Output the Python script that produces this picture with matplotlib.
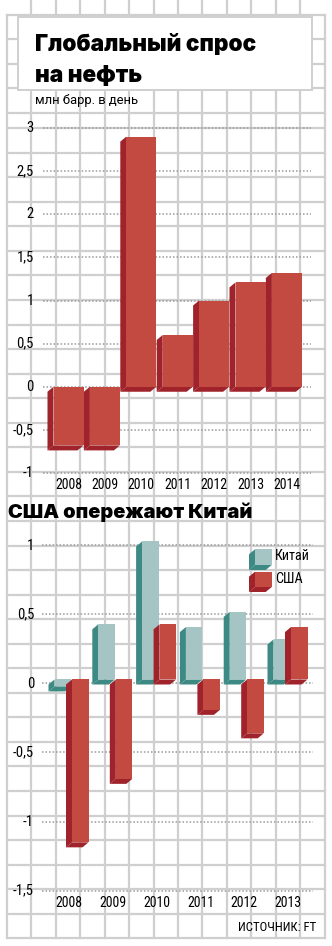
import matplotlib
matplotlib.use("Agg")
import matplotlib.pyplot as plt
from matplotlib.patches import Rectangle, Polygon
from matplotlib import font_manager

# ---- data -------------------------------------------------------------
demand_years = ["2008", "2009", "2010", "2011", "2012", "2013", "2014"]
demand_growth = [-0.68, -0.68, 2.90, 0.60, 1.00, 1.21, 1.32]
demand_ticks = [3, 2.5, 2, 1.5, 1, 0.5, 0, -0.5, -1]

split_years = ["2008", "2009", "2010", "2011", "2012", "2013"]
china_growth = [-0.05, 0.40, 1.00, 0.38, 0.49, 0.29]
usa_growth = [-1.18, -0.72, 0.40, -0.22, -0.39, 0.38]
split_ticks = [1, 0.5, 0, -0.5, -1, -1.5]

title_lines = ["Глобальный спрос", "на нефть"]
unit_text = "млн барр. в день"
split_title = "США опережают Китай"
legend_labels = ["Китай", "США"]
source_text = "ИСТОЧНИК: FT"

# ---- style ------------------------------------------------------------
W, H, DPI = 332, 946, 100
RED, RED_DARK = "#c24a40", "#a0232b"
TEAL, TEAL_DARK = "#a4c5c3", "#3d8a84"
PAPER = "#cfcfcf"
DOTS = "#9a9a9a"


def first_font(names):
    have = {f.name for f in font_manager.fontManager.ttflist}
    for n in names:
        if n in have:
            return n
    return "DejaVu Sans"


NARROW = first_font(["Roboto Condensed", "Liberation Sans Narrow", "Open Sans Condensed", "Roboto"])
HEAVY = first_font(["Inter", "Lato", "Noto Sans", "DejaVu Sans"])
PLAIN = first_font(["Roboto", "Noto Sans", "DejaVu Sans"])

fig = plt.figure(figsize=(W / DPI, H / DPI), dpi=DPI, facecolor="white")


def px_axes(left, top, right, bottom, z):
    ax = fig.add_axes([left / W, 1 - bottom / H, (right - left) / W, (bottom - top) / H])
    ax.set_zorder(z)
    ax.patch.set_alpha(0)
    ax.axis("off")
    return ax


def box3d(ax, x0, x1, yb, yt, ox, oy, face, dark, z=3):
    """Front face plus the shaded left side and underside of a block."""
    side = [(x0, yt), (x0, yb), (x0 + ox, yb + oy), (x0 + ox, yt + oy)]
    under = [(x0, yb), (x1, yb), (x1 + ox, yb + oy), (x0 + ox, yb + oy)]
    ax.add_patch(Polygon(side, closed=True, facecolor=dark, edgecolor="none", zorder=z))
    ax.add_patch(Polygon(under, closed=True, facecolor=dark, edgecolor="none", zorder=z))
    ax.add_patch(Rectangle((x0, min(yb, yt)), x1 - x0, abs(yt - yb),
                           facecolor=face, edgecolor="none", zorder=z + 0.1))


# ---- squared paper background (pixel coordinates) ----------------------
bg = px_axes(0, 0, W, H, 0)
bg.set_xlim(0, W)
bg.set_ylim(H, 0)

col_x = [6.7 + 24.47 * k for k in range(14)]
row_top = [15 + 24.5 * k for k in range(5)]
row_main = [128.15 + 24.55 * k for k in range(34)]
for k, x in enumerate(col_x):
    y_start = 15 if k in (0, len(col_x) - 1) else 0
    bg.plot([x, x], [y_start, row_main[-1]], color=PAPER, lw=1.6, zorder=0)
for y in row_top + row_main:
    bg.plot([col_x[0], col_x[-1]], [y, y], color=PAPER, lw=1.6, zorder=0)

# title panel
bg.add_patch(Rectangle((18.3, 16.7), 311.7 - 18.3, 90 - 16.7, facecolor="white",
                       edgecolor=PAPER, lw=1.4, zorder=1))
for line, base in zip(title_lines, [51, 82.5]):
    bg.text(35, base, line, family=HEAVY, fontweight="black", fontsize=16.3,
            ha="left", va="baseline", color="black", zorder=2)
bg.text(35, 104, unit_text, family=PLAIN, fontsize=9.4, ha="left", va="baseline",
        color="black", zorder=2)

bg.text(8, 518, split_title, family=HEAVY, fontweight="black", fontsize=14.4,
        ha="left", va="baseline", color="black", zorder=2)

# legend blocks
for (top, bot), label, face, dark, ty in [((549.3, 565), legend_labels[0], TEAL, TEAL_DARK, 556),
                                          ((571.7, 587), legend_labels[1], RED, RED_DARK, 579)]:
    box3d(bg, 255, 271.7, bot, top, -6, 5, face, dark, z=3)
    bg.text(275, ty, label, family=NARROW, fontsize=10.2, ha="left", va="center", zorder=3)

bg.text(316, 927, source_text, family=NARROW, fontsize=9.2, ha="right", va="center", zorder=3)

# ---- chart 1: global demand ------------------------------------------
ZERO1, SCALE1 = 386.75, 86.25      # pixel row of zero, pixels per unit
X0_1, STEP1 = 68.5, 36.4           # pixel column of first bar centre, spacing
ax1 = px_axes(0, 110, W, 500, 2)
ax1.set_xlim((0 - X0_1) / STEP1, (W - X0_1) / STEP1)
ax1.set_ylim((ZERO1 - 500) / SCALE1, (ZERO1 - 110) / SCALE1)


def px1(p):
    return (p - X0_1) / STEP1


for t in demand_ticks:
    ax1.plot([px1(43), px1(311)], [t, t], color=DOTS, lw=1.1, ls=(0, (1, 1.3)), zorder=1)
    ax1.text(px1(34), t, f"{t:g}".replace(".", ","), family=NARROW, fontsize=10.5,
             ha="right", va="center")

w1 = 30 / STEP1
dx1, dy1 = 6 / STEP1, 5 / SCALE1
for i, v in enumerate(demand_growth):
    box3d(ax1, i - w1 / 2, i + w1 / 2, min(0, v), max(0, v), -dx1, -dy1, RED, RED_DARK)
    ax1.text(i, (ZERO1 - 485) / SCALE1, demand_years[i], family=NARROW, fontsize=10,
             ha="center", va="center")

# ---- chart 2: China vs USA -------------------------------------------
ZERO2, SCALE2 = 683.5, 138.0
X0_2, STEP2 = 71.0, 43.8
LIFT = 4 / SCALE2
ax2 = px_axes(0, 528, W, 915, 2)
ax2.set_xlim((0 - X0_2) / STEP2, (W - X0_2) / STEP2)
ax2.set_ylim((ZERO2 - 915) / SCALE2, (ZERO2 - 528) / SCALE2)


def px2(p):
    return (p - X0_2) / STEP2


for t in split_ticks:
    ax2.plot([px2(42), px2(313)], [t, t], color=DOTS, lw=1.1, ls=(0, (1, 1.3)), zorder=1)
    ax2.text(px2(34), t, f"{t:g}".replace(".", ","), family=NARROW, fontsize=10.5,
             ha="right", va="center")

w2 = 16.5 / STEP2
gap2 = 1.0 / STEP2
dx2, dy2 = 6 / STEP2, 5 / SCALE2
for i, (c, u) in enumerate(zip(china_growth, usa_growth)):
    box3d(ax2, i - w2, i, min(0, c) + LIFT, max(0, c) + LIFT, -dx2, -dy2, TEAL, TEAL_DARK)
    box3d(ax2, i + gap2, i + gap2 + w2, min(0, u) + LIFT, max(0, u) + LIFT, -dx2, -dy2,
          RED, RED_DARK, z=4)
    ax2.text(i - 2 / STEP2, (ZERO2 - 903) / SCALE2, split_years[i], family=NARROW,
             fontsize=10, ha="center", va="center")

fig.savefig("out.png", dpi=DPI, facecolor="white")
